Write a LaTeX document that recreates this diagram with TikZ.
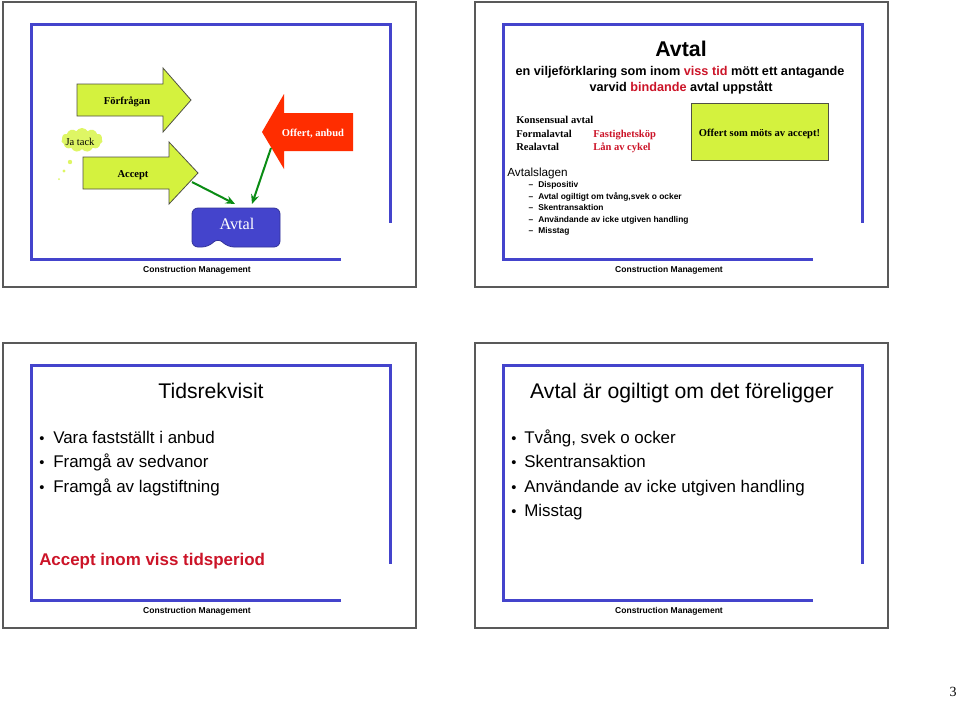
\documentclass[tikz,border=0pt]{standalone}
\usepackage{fontspec}
\setmainfont{Liberation Serif}
\setsansfont{Liberation Sans}
\usetikzlibrary{arrows.meta,shapes.symbols}
\definecolor{frameblue}{RGB}{68,68,204}
\definecolor{limefill}{RGB}{212,242,62}
\definecolor{cloudfill}{RGB}{222,246,100}
\definecolor{arrowred}{RGB}{255,45,0}
\definecolor{textred}{RGB}{204,20,40}
\definecolor{linkgreen}{RGB}{10,140,20}
\definecolor{outlinegray}{RGB}{80,80,70}
\newcommand\drawslide[3]{%
  \begin{scope}[shift={(#1,#2)}]
    \draw[slideframe] (0,0) rectangle (413,285);
    \draw[blueline] (338,257) -- (28,257) -- (28,22) -- (387,22) -- (387,221);
    \node[cmtext] (#3) at (194,267.5) {Construction Management};
  \end{scope}}
\begin{document}
\begin{tikzpicture}[x=0.75pt,y=-0.75pt,
  slideframe/.style={draw=black!65, line width=0.8pt, fill=white},
  blueline/.style={draw=frameblue, line width=2.25pt, line join=miter},
  cmtext/.style={font=\sffamily\bfseries\fontsize{6.4pt}{7.7pt}\selectfont, inner sep=0, anchor=mid},
  limearrow/.style={fill=limefill, draw=outlinegray, line width=0.6pt, line join=miter},
  serifbold/.style={font=\rmfamily\bfseries\fontsize{7.9pt}{9.5pt}\selectfont, inner sep=0, anchor=mid},
  seriflist/.style={font=\rmfamily\bfseries\fontsize{7.9pt}{9.5pt}\selectfont, inner sep=0, anchor=mid west},
  link/.style={draw=linkgreen, line width=1.5pt, -{Stealth[length=7pt,width=6pt]}},
  dashitem/.style={font=\sffamily\bfseries\fontsize{6.3pt}{7.6pt}\selectfont, inner sep=0, anchor=mid west},
  slidetitle/.style={font=\sffamily\fontsize{15.9pt}{19pt}\selectfont, inner sep=0, anchor=mid},
  bullettext/.style={font=\sffamily\fontsize{12.7pt}{15pt}\selectfont, inner sep=0, anchor=mid west},
  bulletdot/.style={font=\sffamily\fontsize{11pt}{15pt}\selectfont, inner sep=0, anchor=mid}]
\useasboundingbox (0,0) rectangle (960,701);
\fill[white] (0,0) rectangle (960,701);

\drawslide{3}{2}{cmA}
\drawslide{475}{2}{cmB}
\drawslide{3}{343}{cmC}
\drawslide{475}{343}{cmD}

% ---------- slide 1 ----------
\draw[limearrow] (77,84) -- (163,84) -- (163,68) -- (191,100) -- (163,132) -- (163,116) -- (77,116) -- cycle;
\node[serifbold] (forfragan) at (127,101) {Förfrågan};
\draw[limearrow] (83,157) -- (169,157) -- (169,142) -- (198,173) -- (169,204) -- (169,189) -- (83,189) -- cycle;
\node[serifbold] (accept) at (133,174) {Accept};
\fill[arrowred] (353,113) -- (284,113) -- (284,94) -- (262,132) -- (284,169) -- (284,151) -- (353,151) -- cycle;
\node[serifbold, text=white] (offert) at (313,133) {Offert, anbud};

\node[cloud, cloud puffs=11, cloud puff arc=120, aspect=1.8, fill=cloudfill, inner sep=0,
      minimum width=31pt, minimum height=18pt] (jacloud) at (82,140) {};
\node[font=\rmfamily\fontsize{7.9pt}{9.5pt}\selectfont, inner sep=0, anchor=mid] (jatack) at (80,142) {Ja tack};
\fill[cloudfill] (70,162) circle (2.2);
\fill[cloudfill] (64,171) circle (1.6);
\fill[cloudfill] (59,179) circle (1.0);

\draw[fill=frameblue, draw=frameblue!75!black, line width=0.6pt, rounded corners=4.5]
  (192,208) -- (280,208) -- (280,247) -- (228,247) -- (218,238) -- (208,247) -- (192,247) -- cycle;
\node[font=\rmfamily\fontsize{12.2pt}{14pt}\selectfont, text=white, inner sep=0, anchor=mid] (avtalbox) at (237,226) {Avtal};

\coordinate (accTail) at (192,182);
\coordinate (accHead) at (235,204);
\coordinate (offTail) at (271,148);
\coordinate (offHead) at (252,204);
\draw[link] (accTail) -- (accHead);
\draw[link] (offTail) -- (offHead);

% ---------- slide 2 ----------
\node[font=\sffamily\bfseries\fontsize{16pt}{19pt}\selectfont, inner sep=0, anchor=mid] (avtaltitle) at (681,53) {Avtal};
\node[font=\sffamily\bfseries\fontsize{9.5pt}{11pt}\selectfont, inner sep=0, anchor=mid] (def1) at (680,72)
  {en viljeförklaring som inom \textcolor{textred}{viss tid} mött ett antagande};
\node[font=\sffamily\bfseries\fontsize{9.5pt}{11pt}\selectfont, inner sep=0, anchor=mid] (def2) at (681,88)
  {varvid \textcolor{textred}{bindande} avtal uppstått};

\node[seriflist] (kons) at (516,120) {Konsensual avtal};
\node[seriflist] (formal) at (516,134) {Formalavtal};
\node[seriflist] (real) at (516,147) {Realavtal};
\node[seriflist, text=textred] (fast) at (593,134) {Fastighetsköp};
\node[seriflist, text=textred] (lan) at (593,147) {Lån av cykel};

\draw[fill=limefill, draw=outlinegray, line width=0.6pt] (691,103) rectangle (828,160);
\node[serifbold] (offertbox) at (759.5,133) {Offert som möts av accept!};

\node[font=\sffamily\fontsize{8.8pt}{10pt}\selectfont, inner sep=0, anchor=mid west] (avtalslagen) at (507,173) {Avtalslagen};
\foreach \yy/\tt [count=\k] in {184/Dispositiv, 196/{Avtal ogiltigt om tvång,svek o ocker}, 207/Skentransaktion, 219/Användande av icke utgiven handling, 230/Misstag}{
  \node[dashitem, anchor=mid] (dash\k) at (531,\yy) {--};
  \node[dashitem] (item\k) at (538,\yy) {\tt};
}

% ---------- slide 3 ----------
\node[slidetitle] (tids) at (211,395) {Tidsrekvisit};
\foreach \yy/\tt [count=\k] in {440.5/Vara fastställt i anbud, 464.5/Framgå av sedvanor, 489.5/Framgå av lagstiftning}{
  \node[bulletdot] (bl\k) at (42,\yy) {\textbullet};
  \node[bullettext] (bt\k) at (53,\yy) {\tt};
}
\node[font=\sffamily\bfseries\fontsize{12.7pt}{15pt}\selectfont, text=textred, inner sep=0, anchor=mid west] (acceptinom) at (39,562.5) {Accept inom viss tidsperiod};

% ---------- slide 4 ----------
\node[slidetitle] (ogiltigt) at (682,395) {Avtal är ogiltigt om det föreligger};
\foreach \yy/\tt [count=\k] in {440.5/{Tvång, svek o ocker}, 464.5/Skentransaktion, 489.5/Användande av icke utgiven handling, 513.5/Misstag}{
  \node[bulletdot] (br\k) at (514,\yy) {\textbullet};
  \node[bullettext] (brt\k) at (524,\yy) {\tt};
}

\node[font=\rmfamily\fontsize{10.5pt}{12pt}\selectfont, inner sep=0, anchor=mid] (pagenum) at (953,693) {3};
\end{tikzpicture}
\end{document}
